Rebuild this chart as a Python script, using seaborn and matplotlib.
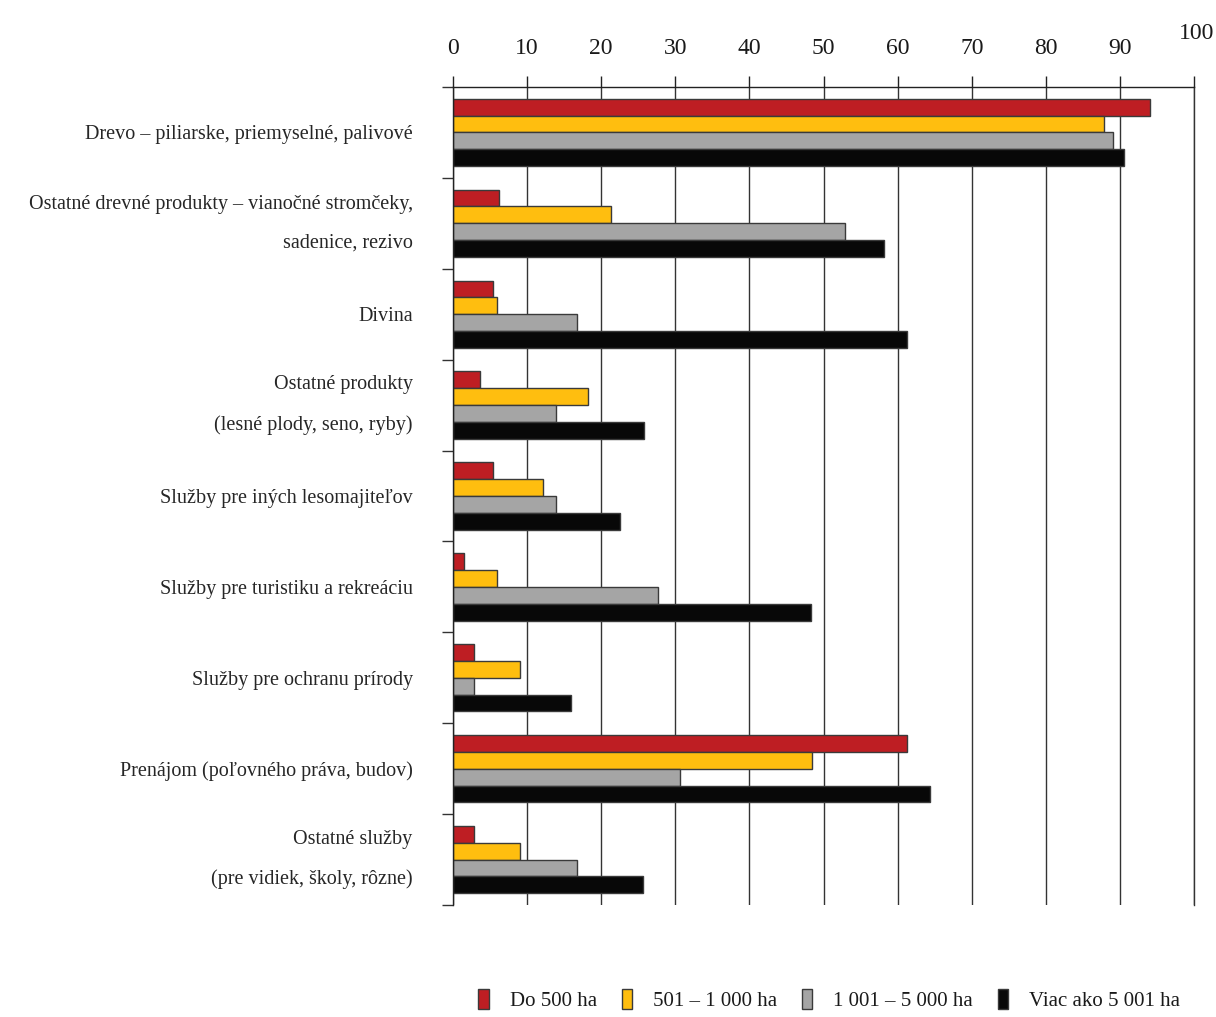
import pandas as pd
import matplotlib.pyplot as plt
import seaborn as sns
import numpy as np

# DATA

categories = [
    'Drevo – piliarske, priemyselné, palivové',
    'Ostatné drevné produkty – vianočné stromčeky,\nsadenice, rezivo',
    'Divina',
    'Ostatné produkty\n(lesné plody, seno, ryby)',
    'Služby pre iných lesomajiteľov',
    'Služby pre turistiku a rekreáciu',
    'Služby pre ochranu prírody',
    'Prenájom (poľovného práva, budov)',
    'Ostatné služby\n(pre vidiek, školy, rôzne)',
]
groups = ['Do 500 ha', '501 – 1 000 ha', '1 001 – 5 000 ha', 'Viac ako 5 001 ha']

do_500 = [94.1, 6.2, 5.4, 3.6, 5.4, 1.5, 2.8, 61.2, 2.8]
ha_501_1000 = [87.9, 21.3, 5.9, 18.2, 12.1, 5.9, 9.0, 48.4, 9.0]
ha_1001_5000 = [89.0, 52.9, 16.7, 13.9, 13.9, 27.7, 2.8, 30.6, 16.7]
viac_5001 = [90.6, 58.1, 61.3, 25.8, 22.5, 48.3, 15.9, 64.4, 25.7]

colors = ['#BE1E23', '#FFBE0F', '#A5A5A5', '#080808']
x_ticks = list(range(0, 101, 10))

# PLOTTING

df = pd.DataFrame({'Kategoria': categories,
                   groups[0]: do_500,
                   groups[1]: ha_501_1000,
                   groups[2]: ha_1001_5000,
                   groups[3]: viac_5001})
long_df = df.melt(id_vars='Kategoria', var_name='Skupina', value_name='Podiel')

sns.set_style('white')
plt.rcParams['font.family'] = ['Liberation Serif', 'DejaVu Serif']
plt.rcParams['text.color'] = '#1a1a1a'

fig = plt.figure(figsize=(12.16, 10.17), dpi=100)
ax = fig.add_axes([0.3725, 0.110, 0.6095, 0.8045])

sns.barplot(data=long_df, y='Kategoria', x='Podiel', hue='Skupina',
            hue_order=groups, order=categories, palette=colors, saturation=1,
            orient='h', width=0.74, edgecolor='#3a3a3a', linewidth=1.0, ax=ax)

ax.set_xlim(0, 100)
ax.set_ylim(len(categories) - 0.5, -0.5)
ax.set_xlabel('')
ax.set_ylabel('')

# x axis on top, the last label sits higher
ax.xaxis.tick_top()
ax.set_xticks(x_ticks)
ax.set_xticklabels([str(t) for t in x_ticks[:-1]] + [''])
ax.tick_params(axis='x', direction='out', length=8, width=1.0, color='#222222',
               pad=12, labelsize=17, labelcolor='#1a1a1a')
ax.annotate('100', xy=(100, 1), xycoords=('data', 'axes fraction'),
            xytext=(2, 31), textcoords='offset points', ha='center', va='bottom',
            fontsize=17, color='#1a1a1a')

ax.grid(axis='x', color='#333333', linewidth=1.0)
ax.grid(axis='y', visible=False)
ax.set_axisbelow(True)

# category labels at centres, small ticks at boundaries
ax.set_yticks(np.arange(len(categories)))
ax.set_yticklabels(categories, linespacing=2.4)
for lab in ax.get_yticklabels():
    if '\n' in lab.get_text():
        lab.set_verticalalignment('center')
ax.set_yticks(np.arange(-0.5, len(categories), 1), minor=True)
ax.tick_params(axis='y', which='major', length=0, pad=29, labelsize=14.5)
ax.tick_params(axis='y', which='minor', direction='out', length=8, width=1.0,
               color='#333333', left=True)

for side in ['top', 'left', 'right']:
    ax.spines[side].set_visible(True)
    ax.spines[side].set_color('#222222')
    ax.spines[side].set_linewidth(1.0)
ax.spines['right'].set_color('#333333')
ax.spines['bottom'].set_visible(False)

handles, labels = ax.get_legend_handles_labels()
ax.get_legend().remove()
fig.legend(handles, labels, loc='center', bbox_to_anchor=(0.682, 0.017),
           ncol=4, frameon=False, fontsize=15, handlelength=0.5,
           handleheight=1.1, handletextpad=1.0, columnspacing=1.2)

plt.savefig('out.png', dpi=100)
